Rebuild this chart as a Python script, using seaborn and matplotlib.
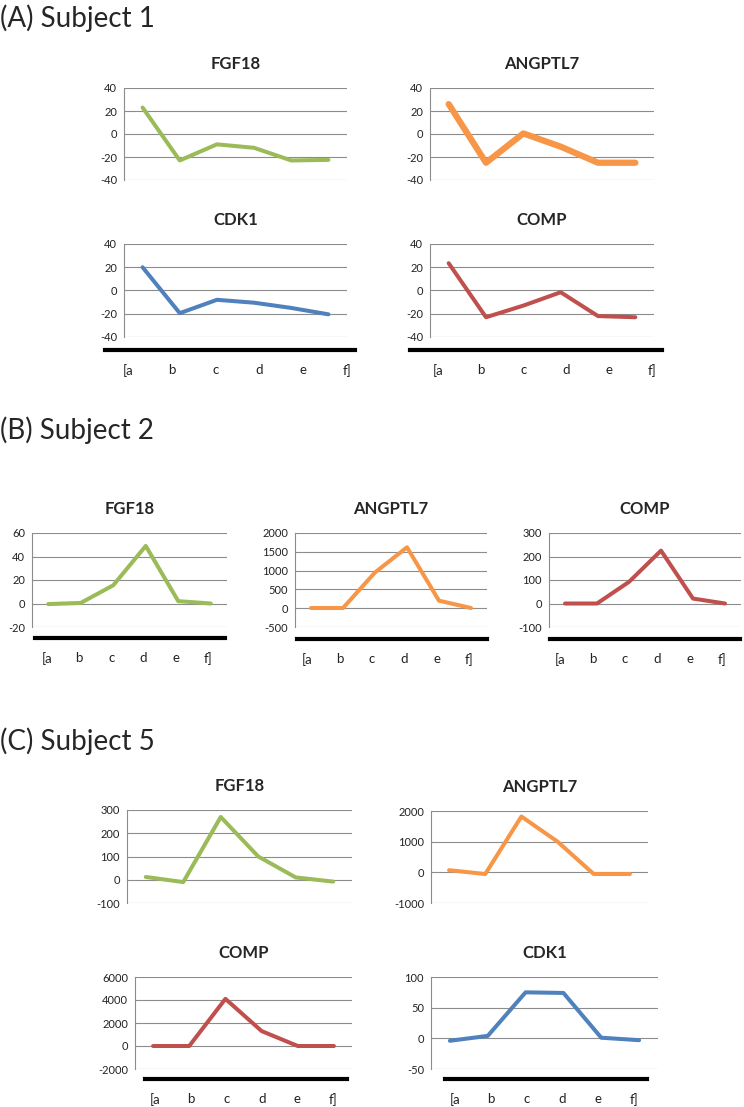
import numpy as np
import pandas as pd
import matplotlib
matplotlib.use("Agg")
import matplotlib.pyplot as plt
import seaborn as sns

# time points (category axis) and the labels written under the black bars
timepoints = ["a", "b", "c", "d", "e", "f"]
bar_labels = ["[a", "b", "c", "d", "e", "f]"]

# (A) Subject 1
s1_fgf18 = [23, -23, -9, -12, -23, -22.5]
s1_angptl7 = [26, -25, 0.5, -11, -25, -25]
s1_cdk1 = [20, -19.5, -8, -10.5, -15, -20.5]
s1_comp = [23.5, -23, -13, -1.5, -22, -23]

# (B) Subject 2
s2_fgf18 = [-0.5, 0.5, 15.5, 49, 2, 0]
s2_angptl7 = [5, 5, 950, 1620, 200, 5]
s2_comp = [0, 0, 92, 225, 21, 0]

# (C) Subject 5
s5_fgf18 = [12, -10, 270, 100, 10, -8]
s5_angptl7 = [70, -55, 1820, 1000, -55, -55]
s5_comp = [0, 0, 4100, 1300, 0, 0]
s5_cdk1 = [-4, 4, 75, 74, 1, -3]

GREEN, ORANGE, BLUE, RED = "#9BBB59", "#F79646", "#4F81BD", "#C0504D"

W, H = 744, 1107
sns.set_style("white")
plt.rcParams["font.family"] = ["Lato", "DejaVu Sans"]
plt.rcParams["axes.unicode_minus"] = False

fig = plt.figure(figsize=(W / 100, H / 100), dpi=100)


def px_axes(x0, x1, ytop, ybot):
    return fig.add_axes([x0 / W, 1 - ybot / H, (x1 - x0) / W, (ybot - ytop) / H])


def panel(box, title, values, color, ylim, step, lw=2.9):
    x0, x1, ytop, ybot = box
    ax = px_axes(x0, x1, ytop, ybot)
    df = pd.DataFrame({"pos": np.arange(len(timepoints)), "value": values})
    sns.lineplot(data=df, x="pos", y="value", color=color, lw=lw, ax=ax,
                 solid_joinstyle="round", solid_capstyle="round")
    ax.set_xlim(-0.5, len(timepoints) - 0.5)
    ax.set_ylim(*ylim)
    ax.set_yticks(np.arange(ylim[0], ylim[1] + step / 2, step))
    ax.set_xticks([])
    ax.set_xlabel("")
    ax.set_ylabel("")
    ax.yaxis.grid(True, color="#8c8c8c", lw=0.8)
    ax.set_axisbelow(True)
    for side in ["top", "right", "bottom"]:
        ax.spines[side].set_visible(False)
    ax.spines["left"].set_color("#8c8c8c")
    ax.spines["left"].set_linewidth(0.8)
    ax.tick_params(axis="y", length=3, width=0.8, color="#8c8c8c",
                   labelsize=8, labelcolor="#222222", pad=2)
    ax.set_title(title, fontsize=12, fontweight="bold", pad=14)
    return ax


def time_bar(x0, x1, y, first, last):
    ax = px_axes(x0, x1, y - 1, y)
    ax.set_xlim(x0, x1)
    ax.set_yticks([])
    for side in ["top", "right", "left"]:
        ax.spines[side].set_visible(False)
    ax.spines["bottom"].set_linewidth(3)
    ax.spines["bottom"].set_color("black")
    ax.set_xticks(np.linspace(first, last, len(bar_labels)))
    ax.set_xticklabels(bar_labels, fontsize=9.5, color="#222222")
    ax.tick_params(axis="x", length=0, pad=10)
    ax.patch.set_alpha(0)


def section(text, y):
    fig.text(0 / W, 1 - y / H, text, fontsize=20, va="center", ha="left")


# (A)
section("(A) Subject 1", 18)
panel((124, 347, 88, 180), "FGF18", s1_fgf18, GREEN, (-40, 40), 20)
panel((430, 654, 88, 180), "ANGPTL7", s1_angptl7, ORANGE, (-40, 40), 20, lw=4.5)
panel((124, 347, 244, 337), "CDK1", s1_cdk1, BLUE, (-40, 40), 20)
panel((430, 654, 244, 337), "COMP", s1_comp, RED, (-40, 40), 20)
time_bar(105, 355, 350, 128, 347)
time_bar(410, 662, 350, 438, 652)

# (B)
section("(B) Subject 2", 430)
panel((32, 227, 533, 627), "FGF18", s2_fgf18, GREEN, (-20, 60), 20)
panel((295, 487, 533, 627), "ANGPTL7", s2_angptl7, ORANGE, (-500, 2000), 500)
panel((549, 741, 533, 627), "COMP", s2_comp, RED, (-100, 300), 100)
time_bar(35, 225, 638, 47, 208)
time_bar(297, 487, 639, 307, 469)
time_bar(550, 740, 639, 560, 722)

# (C)
section("(C) Subject 5", 741)
panel((127, 352, 810, 903), "FGF18", s5_fgf18, GREEN, (-100, 300), 100)
panel((431, 648, 811, 903), "ANGPTL7", s5_angptl7, ORANGE, (-1000, 2000), 1000)
panel((135, 352, 977, 1069), "COMP", s5_comp, RED, (-2000, 6000), 2000)
panel((431, 658, 977, 1069), "CDK1", s5_cdk1, BLUE, (-50, 100), 50)
time_bar(145, 347, 1079, 155, 333)
time_bar(445, 647, 1079, 455, 634)

fig.savefig("out.png", dpi=100)
